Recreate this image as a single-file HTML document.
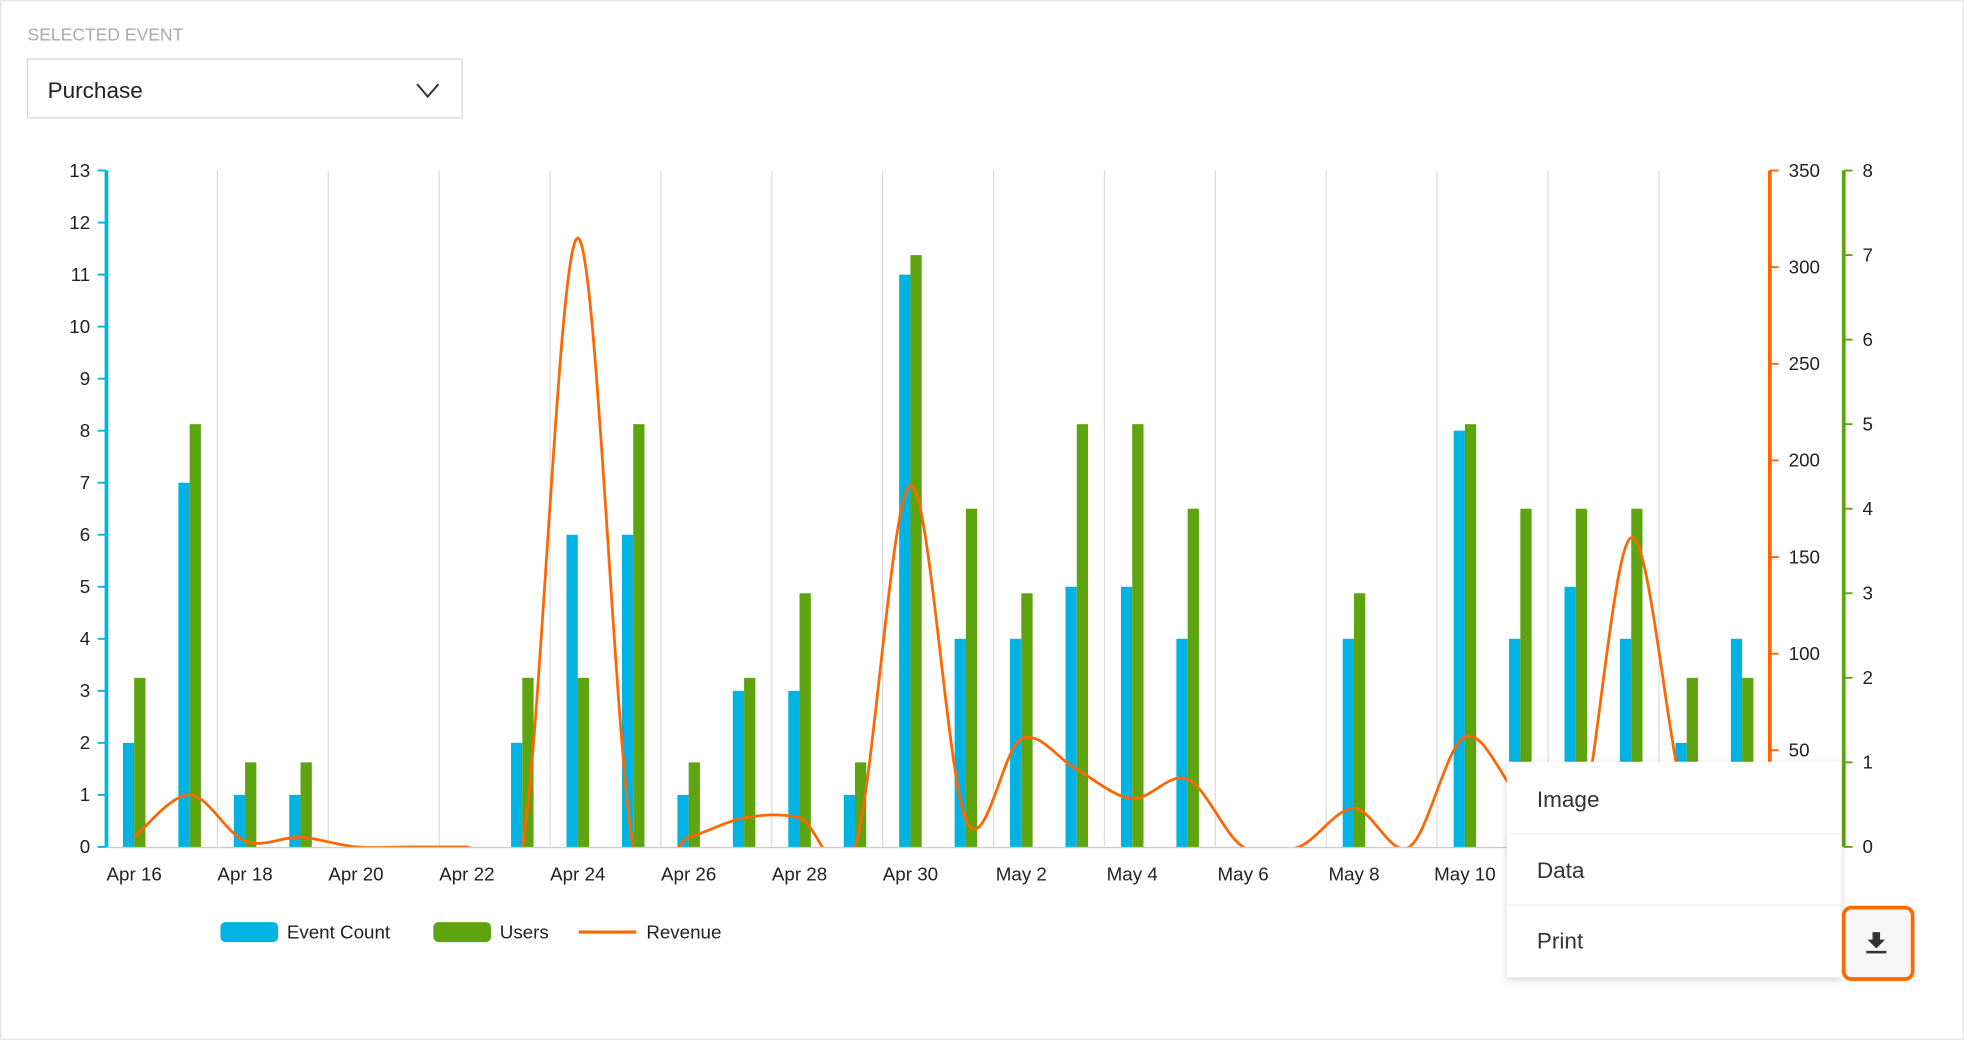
<!DOCTYPE html>
<html><head><meta charset="utf-8"><style>
html,body{margin:0;padding:0;background:#fff;}
svg{display:block;font-family:"Liberation Sans",sans-serif;}
</style></head><body>
<svg id="c" width="1964" height="1040" viewBox="0 0 1568 830" xmlns="http://www.w3.org/2000/svg">
<defs>
<clipPath id="plotclip"><rect x="85" y="100" width="1328" height="576"/></clipPath>
<filter id="sh" x="-10%" y="-10%" width="120%" height="130%"><feDropShadow dx="0" dy="2" stdDeviation="3" flood-color="#000" flood-opacity="0.18"/></filter>
</defs>
<rect x="0.5" y="0.5" width="1567" height="829" fill="#fff" stroke="#e3e3e3"/>
<text x="22" y="32" font-size="14" fill="#aaa">SELECTED EVENT</text>
<g>
<rect x="22" y="47" width="347" height="47" fill="#fff" stroke="#d6d6d6"/>
<text x="38" y="78" font-size="18" fill="#222">Purchase</text>
<path d="M333 67 L341.5 77 L350 67" fill="none" stroke="#333" stroke-width="1.6"/>
</g>
<g id="grid"></g>
<g id="bars"></g>
<g id="line" clip-path="url(#plotclip)"></g>
<g id="axes"></g>
<g>
<g><rect x="176" y="736" width="46" height="16" rx="4" fill="#00b3e3"/><text x="229" y="749" font-size="15" fill="#222">Event Count</text></g>
<g><rect x="346" y="736" width="46" height="16" rx="4" fill="#5ea40e"/><text x="399" y="749" font-size="15" fill="#222">Users</text></g>
<g><line x1="462" y1="744" x2="508" y2="744" stroke="#ff6600" stroke-width="2.5"/><text x="516" y="749" font-size="15" fill="#222">Revenue</text></g>
</g>
<g>
<rect x="1203" y="608" width="267" height="172" fill="#fff" filter="url(#sh)"/>
<line x1="1203" y1="665.5" x2="1470" y2="665.5" stroke="#f0f0f0"/>
<line x1="1203" y1="722.5" x2="1470" y2="722.5" stroke="#f0f0f0"/>
<text x="1227" y="644" font-size="18" fill="#333">Image</text>
<text x="1227" y="701" font-size="18" fill="#333">Data</text>
<text x="1227" y="757" font-size="18" fill="#333">Print</text>
</g>
<g>
<rect x="1472" y="724.5" width="55" height="57" rx="6" fill="#f6f6f6" stroke="#ff6a00" stroke-width="3"/>
<path d="M1495 744 h6 v6 h4 l-7 7 l-7 -7 h4 z" fill="#333"/>
<rect x="1490" y="759" width="16" height="2" fill="#333"/>
</g>
</svg>
<script>
const categories=["Apr 16","Apr 17","Apr 18","Apr 19","Apr 20","Apr 21","Apr 22","Apr 23","Apr 24","Apr 25","Apr 26","Apr 27","Apr 28","Apr 29","Apr 30","May 1","May 2","May 3","May 4","May 5","May 6","May 7","May 8","May 9","May 10","May 11","May 12","May 13","May 14","May 15"];
const eventCount=[2,7,1,1,0,0,0,2,6,6,1,3,3,1,11,4,4,5,5,4,0,0,4,0,8,4,5,4,2,4];
const users=[2,5,1,1,0,0,0,2,2,5,1,2,3,1,7,4,3,5,5,4,0,0,3,0,5,4,4,4,2,2];
const revenue=[5,27,3,5,0,0,0,0,315,0,5,15,15,0,187,14,56,40,25,35,0,0,20,0,57,25,0,160,20,0];
const leftTicks=[0,1,2,3,4,5,6,7,8,9,10,11,12,13];
const revTicks=[0,50,100,150,200,250,300,350];
const userTicks=[0,1,2,3,4,5,6,7,8];

const NS="http://www.w3.org/2000/svg";
const X0=85,X1=1413,Y0=676,Y1=136;
const step=(X1-X0)/categories.length;
const xc=i=>X0+step*(i+0.5);
const yL=v=>Y0-(Y0-Y1)*v/13;
const yR=v=>Y0-(Y0-Y1)*v/350;
const yU=v=>Y0-(Y0-Y1)*v/8;
function mk(tag,attrs,parent){const e=document.createElementNS(NS,tag);for(const k in attrs)e.setAttribute(k,attrs[k]);parent.appendChild(e);return e;}
const grid=document.getElementById('grid'),bars=document.getElementById('bars'),line=document.getElementById('line'),axes=document.getElementById('axes');
for(let k=2;k<categories.length;k+=2){const x=X0+step*k;
 const g=mk('line',{x1:x,x2:x,y1:Y1,y2:Y0,stroke:'#dcdcdc','stroke-width':1},grid);
 
 }
const base=mk('line',{x1:X0,x2:X1,y1:Y0+0.5,y2:Y0+0.5,stroke:'#ccc'},grid);


categories.forEach((c,i)=>{
 const x=xc(i);
 if(eventCount[i]>0){const b=mk('rect',{x:x-9,y:yL(eventCount[i]),width:9,height:Y0-yL(eventCount[i]),fill:'#00b3e3'},bars);
  
  }
 if(users[i]>0){const b=mk('rect',{x:x,y:yU(users[i]),width:9,height:Y0-yU(users[i]),fill:'#5ea40e'},bars);
  
  }
 if(i%2===0){const t=mk('text',{x:x,y:703,'font-size':15,fill:'#222','text-anchor':'middle'},axes);t.textContent=c;
  
  }
});
// revenue spline (Catmull-Rom)
const pts=revenue.map((v,i)=>[xc(i),yR(v)]);
let d='M'+pts[0][0]+' '+pts[0][1];
for(let i=0;i<pts.length-1;i++){const p0=pts[Math.max(0,i-1)],p1=pts[i],p2=pts[i+1],p3=pts[Math.min(pts.length-1,i+2)];
 const c1=[p1[0]+(p2[0]-p0[0])/6,p1[1]+(p2[1]-p0[1])/6],c2=[p2[0]-(p3[0]-p1[0])/6,p2[1]-(p3[1]-p1[1])/6];
 d+=` C${c1[0]} ${c1[1]} ${c2[0]} ${c2[1]} ${p2[0]} ${p2[1]}`;}
const rl=mk('path',{d:d,fill:'none',stroke:'#ff6600','stroke-width':2.2},line);


// axes
function axis(x,col,ticks,yf,side,name){
 const a=mk('line',{x1:x,x2:x,y1:Y1,y2:Y0,stroke:col,'stroke-width':3},axes);
 
 
 ticks.forEach(v=>{const y=yf(v);
  mk('line',{x1:x,x2:x+side*7,y1:y,y2:y,stroke:col,'stroke-width':1.5},axes);
  const t=mk('text',{x:side<0?x-13:x+15,y:y+5,'font-size':15,fill:'#222','text-anchor':side<0?'end':'start'},axes);
  t.textContent=v;
  
  });
}
axis(X0,'#00b3e3',leftTicks,yL,-1,'y-axis-event-count');
axis(X1,'#ff6600',revTicks,yR,1,'y-axis-revenue');
axis(1472,'#5ea40e',userTicks,yU,1,'y-axis-users');
</script>
</body></html>
